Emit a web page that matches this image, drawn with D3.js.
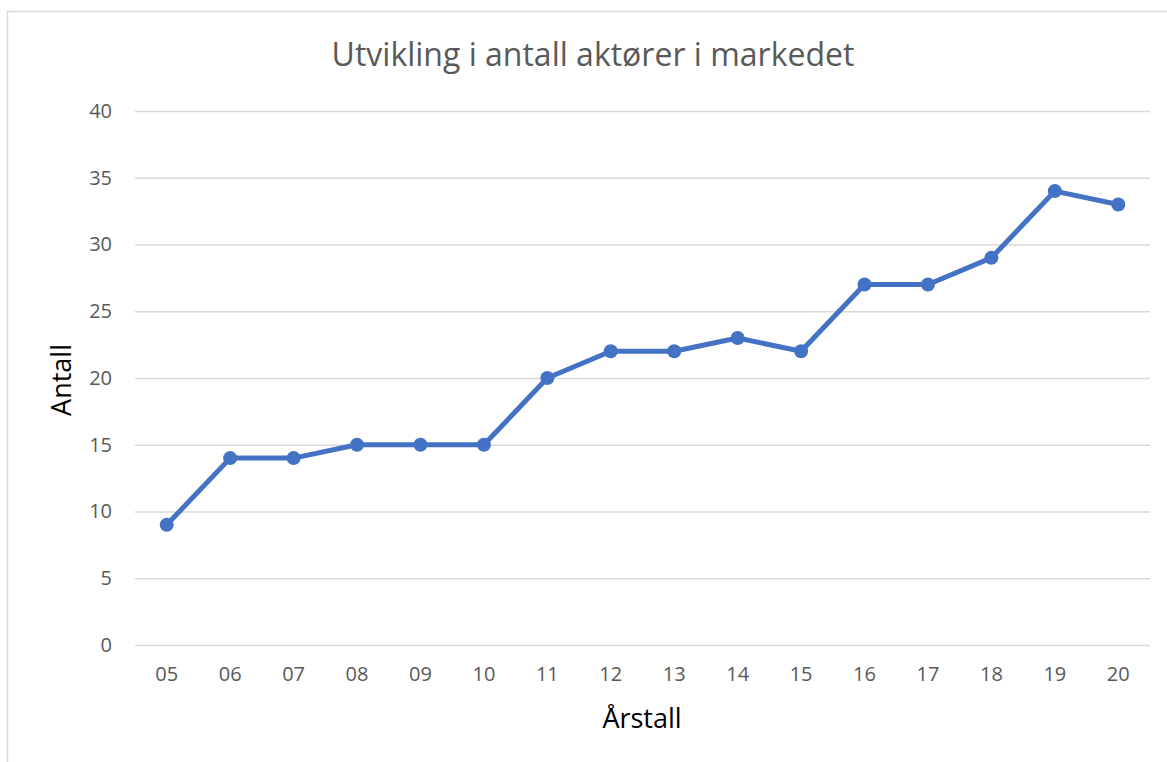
<!DOCTYPE html>
<html>
<head>
<meta charset="utf-8">
<script src="https://cdn.jsdelivr.net/npm/d3@7"></script>
<style>
  body { margin: 0; background: #fff; }
  text { font-family: "Open Sans", "Noto Sans", "Liberation Sans", sans-serif; }
</style>
</head>
<body>
<div id="chart"></div>
<script>
// data
var years = ["05", "06", "07", "08", "09", "10", "11", "12", "13", "14", "15", "16", "17", "18", "19", "20"];
var antall = [9, 14, 14, 15, 15, 15, 20, 22, 22, 23, 22, 27, 27, 29, 34, 33];
var yTicks = [0, 5, 10, 15, 20, 25, 30, 35, 40];

var svgWidth = 1167;
var svgHeight = 762;

// plot area
var margin = { top: 111, right: 17, bottom: 117, left: 135 };
var width = svgWidth - margin.left - margin.right;
var height = svgHeight - margin.top - margin.bottom;

var svg = d3.select("#chart")
  .append("svg")
  .attr("width", svgWidth)
  .attr("height", svgHeight);

// chart border
svg.append("rect")
  .attr("x", 7.5)
  .attr("y", 11.5)
  .attr("width", svgWidth + 10)
  .attr("height", svgHeight + 10)
  .attr("fill", "none")
  .attr("stroke", "#d9d9d9")
  .attr("stroke-width", 1.5);

var chartGroup = svg.append("g")
  .attr("transform", `translate(${margin.left}, ${margin.top})`);

var x = d3.scaleBand()
  .domain(years)
  .range([0, width]);

var y = d3.scaleLinear()
  .domain([0, 40])
  .range([height, 0]);

// gridlines + y labels
var leftAxis = d3.axisLeft(y)
  .tickValues(yTicks)
  .tickSize(-width)
  .tickPadding(23);

var yAxis = chartGroup.append("g").call(leftAxis);
yAxis.select(".domain").remove();
yAxis.selectAll("line").attr("stroke", "#d9d9d9").attr("stroke-width", 1.5);
yAxis.selectAll("text")
  .attr("fill", "#595959")
  .attr("font-size", "20px");

// x labels
var bottomAxis = d3.axisBottom(x).tickSize(0).tickPadding(22);
var xAxis = chartGroup.append("g")
  .attr("transform", `translate(0, ${height})`)
  .call(bottomAxis);
xAxis.select(".domain").remove();
xAxis.selectAll("text")
  .attr("fill", "#595959")
  .attr("font-size", "20px");

// line
var line = d3.line()
  .x((d, i) => x(years[i]) + x.bandwidth() / 2)
  .y(d => y(d));

chartGroup.append("path")
  .datum(antall)
  .attr("d", line)
  .attr("fill", "none")
  .attr("stroke", "#4472c4")
  .attr("stroke-width", 5)
  .attr("stroke-linejoin", "round");

chartGroup.append("g")
  .selectAll("circle")
  .data(antall)
  .enter()
  .append("circle")
  .attr("cx", (d, i) => x(years[i]) + x.bandwidth() / 2)
  .attr("cy", d => y(d))
  .attr("r", 7)
  .attr("fill", "#4472c4");

// title
svg.append("text")
  .attr("x", 593)
  .attr("y", 66)
  .attr("text-anchor", "middle")
  .attr("font-size", "32px")
  .attr("fill", "#595959")
  .text("Utvikling i antall aktører i markedet");

// axis titles
svg.append("text")
  .attr("x", 642)
  .attr("y", 728)
  .attr("text-anchor", "middle")
  .attr("font-size", "27px")
  .attr("fill", "#000")
  .text("Årstall");

svg.append("text")
  .attr("transform", "translate(71, 380) rotate(-90)")
  .attr("text-anchor", "middle")
  .attr("font-size", "27px")
  .attr("fill", "#000")
  .text("Antall");
</script>
</body>
</html>
